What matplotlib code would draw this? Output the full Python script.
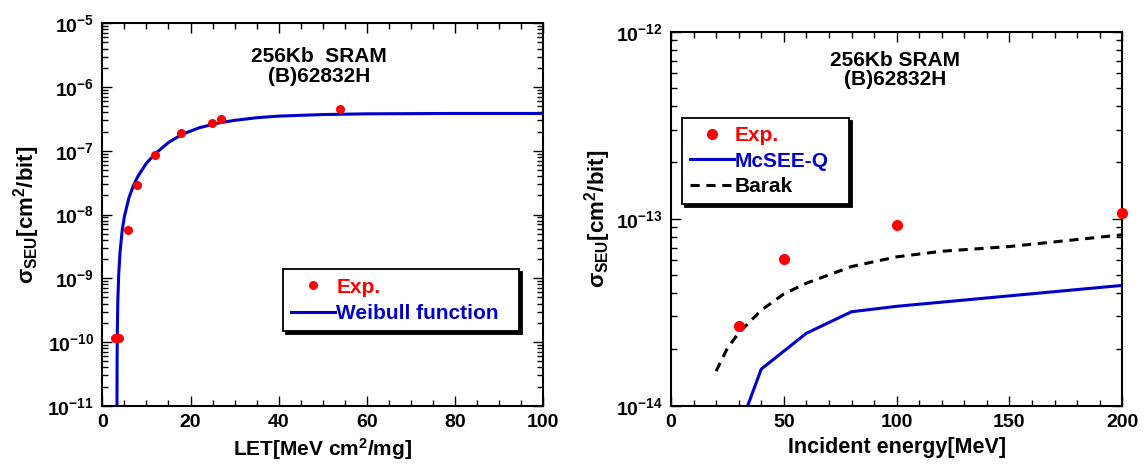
import matplotlib
matplotlib.use('Agg')
import matplotlib.pyplot as plt
from matplotlib.ticker import MultipleLocator, LogLocator, NullFormatter, LogFormatterSciNotation

plt.rcParams['font.family'] = ['Liberation Sans', 'DejaVu Sans']
plt.rcParams['font.weight'] = 'bold'
plt.rcParams['axes.labelweight'] = 'bold'
plt.rcParams['mathtext.fontset'] = 'custom'
plt.rcParams['mathtext.rm'] = 'Liberation Sans:bold'
plt.rcParams['mathtext.it'] = 'Liberation Sans:bold'
plt.rcParams['mathtext.bf'] = 'Liberation Sans:bold'

# heavy ion data: LET vs cross section
let_exp = [2.9, 3.85, 5.9, 7.9, 11.9, 17.9, 24.9, 26.9, 53.9]
sig_exp = [1.14e-10, 1.14e-10, 5.7e-9, 2.9e-8, 8.5e-8, 1.92e-7, 2.7e-7, 3.1e-7, 4.6e-7]

# Weibull fit curve
let_fit = [3.31, 3.35, 3.4, 3.5, 3.7, 4.0, 4.5, 5.0, 6.0, 7.0, 8.0, 10, 12, 15,
           18, 22, 26, 30, 35, 40, 50, 60, 80, 100]
sig_fit = [5e-12, 5.4e-11, 1.5e-10, 4.1e-10, 1.1e-9, 2.5e-9, 5.6e-9, 9.3e-9,
           1.8e-8, 2.8e-8, 3.9e-8, 6.4e-8, 9e-8, 1.35e-7, 1.8e-7, 2.3e-7,
           2.7e-7, 3.0e-7, 3.3e-7, 3.5e-7, 3.7e-7, 3.8e-7, 3.85e-7, 3.85e-7]

# proton data: incident energy vs cross section
e_exp = [30, 50, 100, 200]
p_exp = [2.68e-14, 6.09e-14, 9.22e-14, 1.07e-13]

e_mcsee = [30, 40, 60, 80, 100, 200]
p_mcsee = [7.4e-15, 1.57e-14, 2.44e-14, 3.18e-14, 3.4e-14, 4.4e-14]

e_barak = [20, 25, 30, 40, 50, 60, 80, 100, 120, 150, 200]
p_barak = [1.53e-14, 2.03e-14, 2.45e-14, 3.24e-14, 3.96e-14, 4.52e-14,
           5.55e-14, 6.25e-14, 6.7e-14, 7.1e-14, 8.2e-14]

left_decades = [1e-11, 1e-10, 1e-9, 1e-8, 1e-7, 1e-6, 1e-5]
right_decades = [1e-14, 1e-13, 1e-12]

device = '(B)62832H'


def style_axes(ax, xmajor, xminor, decades):
    ax.set_yscale('log')
    ax.xaxis.set_major_locator(MultipleLocator(xmajor))
    ax.xaxis.set_minor_locator(MultipleLocator(xminor))
    ax.set_yticks(decades)
    ax.yaxis.set_major_formatter(LogFormatterSciNotation())
    ax.yaxis.set_minor_locator(LogLocator(base=10, subs=range(2, 10), numticks=20))
    ax.yaxis.set_minor_formatter(NullFormatter())
    ax.tick_params(which='both', direction='in', top=True, right=True, width=1.0)
    ax.tick_params(which='major', length=7, labelsize=14, pad=6)
    ax.tick_params(which='minor', length=4)
    for sp in ax.spines.values():
        sp.set_linewidth(1.5)


def add_legend(ax, box, spacing):
    h, l = ax.get_legend_handles_labels()
    leg = ax.legend(h[::-1], l[::-1], loc='lower left', bbox_to_anchor=box,
                    mode='expand', fontsize=15, labelcolor='linecolor', fancybox=False,
                    edgecolor='black', handlelength=2.1, handletextpad=0.05,
                    borderpad=0.4, borderaxespad=0, labelspacing=spacing,
                    shadow={'color': 'black', 'alpha': 1})
    leg.get_frame().set_linewidth(1.3)
    return leg


fig = plt.figure(figsize=(11.46, 4.68), dpi=100)

# left panel
ax1 = fig.add_axes([0.0893, 0.1331, 0.3848, 0.8171])
ax1.plot(let_fit, sig_fit, color='#0000cc', lw=2.2, label='Weibull function', zorder=2)
ax1.plot(let_exp, sig_exp, 'o', color='#ff0000', ms=5.5, label='Exp.', zorder=3)
style_axes(ax1, 20, 5, left_decades)
ax1.set_xlim(0, 100)
ax1.set_ylim(1e-11, 1e-5)
ax1.set_xlabel('LET[MeV cm$^2$/mg]', fontsize=15, labelpad=4)
ax1.set_ylabel(r'$\sigma_{SEU}$[cm$^2$/bit]', fontsize=16, labelpad=4)
ax1.text(0.491, 0.888, '256Kb  SRAM\n' + device, transform=ax1.transAxes,
         ha='center', va='center', fontsize=15, linespacing=1.05)
add_legend(ax1, (0.41, 0.195, 0.535, 0.167), 0.35)

# right panel
ax2 = fig.add_axes([0.5855, 0.1331, 0.3938, 0.7991])
ax2.plot(e_barak, p_barak, color='black', lw=2.2, ls=(0, (3, 2.2)), label='Barak', zorder=2)
ax2.plot(e_mcsee, p_mcsee, color='#0000cc', lw=2.2, label='McSEE-Q', zorder=2)
ax2.plot(e_exp, p_exp, 'o', color='#ff0000', ms=7, label='Exp.', zorder=3, clip_on=False)
style_axes(ax2, 50, 10, right_decades)
ax2.set_xlim(0, 200)
ax2.set_ylim(1e-14, 1e-12)
ax2.set_xlabel('Incident energy[MeV]', fontsize=15.5, labelpad=4)
ax2.set_ylabel(r'$\sigma_{SEU}$[cm$^2$/bit]', fontsize=16, labelpad=2)
ax2.text(0.496, 0.898, '256Kb SRAM\n' + device, transform=ax2.transAxes,
         ha='center', va='center', fontsize=15, linespacing=1.05)
add_legend(ax2, (0.024, 0.539, 0.371, 0.234), 0.3)

fig.savefig('out.png', dpi=100)
